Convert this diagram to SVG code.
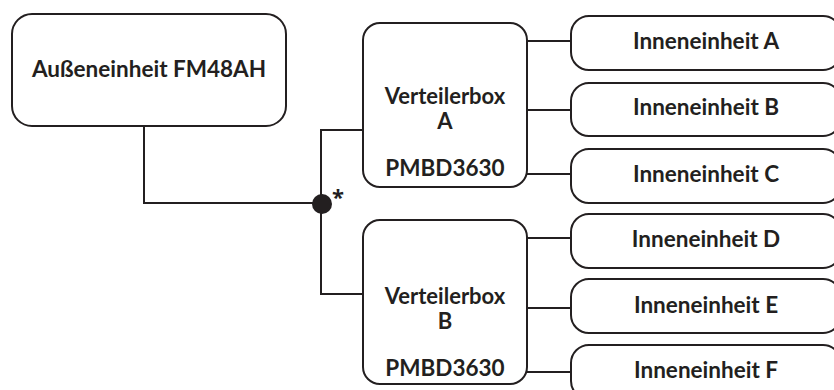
<svg xmlns="http://www.w3.org/2000/svg" width="834" height="390" viewBox="0 0 834 390">
<style>
.box{fill:#fff;stroke:#231f20;stroke-width:2}
.ln{fill:none;stroke:#231f20;stroke-width:2}
.t{font-family:"Lato","Open Sans","Liberation Sans",sans-serif;font-weight:700;font-size:22.5px;fill:#231f20;text-anchor:middle}
.v{font-size:22px}
.ast{font-family:"Open Sans","Liberation Sans",sans-serif;font-weight:700;font-size:22px;fill:#231f20;text-anchor:middle}
</style>
<rect width="834" height="390" fill="#fff"/>
<g id="connectors">
<path class="ln" d="M144 126V203H321"/>
<path class="ln" d="M363 130H321V294H363"/>
<path class="ln" d="M527 41H571M527 110H571M527 174H571"/>
<path class="ln" d="M527 238H571M527 308H571M527 372H571"/>
<circle cx="322" cy="204" r="10" fill="#231f20"/>
<text class="ast" x="338" y="205">*</text>
</g>
<g id="outdoor">
<rect class="box" x="12" y="14" width="274" height="112" rx="20"/>
<text class="t" x="149" y="77">Außeneinheit FM48AH</text>
</g>
<g id="boxA">
<rect class="box" x="363" y="23" width="164" height="164" rx="17"/>
<text class="t v" x="445" y="104">Verteilerbox<tspan x="445" dy="24.5">A</tspan></text>
<text class="t" x="445" y="176">PMBD3630</text>
</g>
<g id="boxB">
<rect class="box" x="363" y="220" width="164" height="164" rx="17"/>
<text class="t v" x="445" y="304">Verteilerbox<tspan x="445" dy="24.5">B</tspan></text>
<text class="t" x="445" y="376">PMBD3630</text>
</g>
<g id="inA"><rect class="box" x="571" y="16" width="270" height="54" rx="18"/><text class="t" x="706" y="49">Inneneinheit A</text></g>
<g id="inB"><rect class="box" x="571" y="83" width="270" height="53" rx="18"/><text class="t" x="706" y="115">Inneneinheit B</text></g>
<g id="inC"><rect class="box" x="571" y="149" width="270" height="54" rx="18"/><text class="t" x="706" y="182">Inneneinheit C</text></g>
<g id="inD"><rect class="box" x="571" y="214" width="270" height="54" rx="18"/><text class="t" x="706" y="247">Inneneinheit D</text></g>
<g id="inE"><rect class="box" x="571" y="279" width="270" height="54" rx="18"/><text class="t" x="706" y="313">Inneneinheit E</text></g>
<g id="inF"><rect class="box" x="571" y="345" width="270" height="54" rx="18"/><text class="t" x="706" y="378">Inneneinheit F</text></g>
</svg>
